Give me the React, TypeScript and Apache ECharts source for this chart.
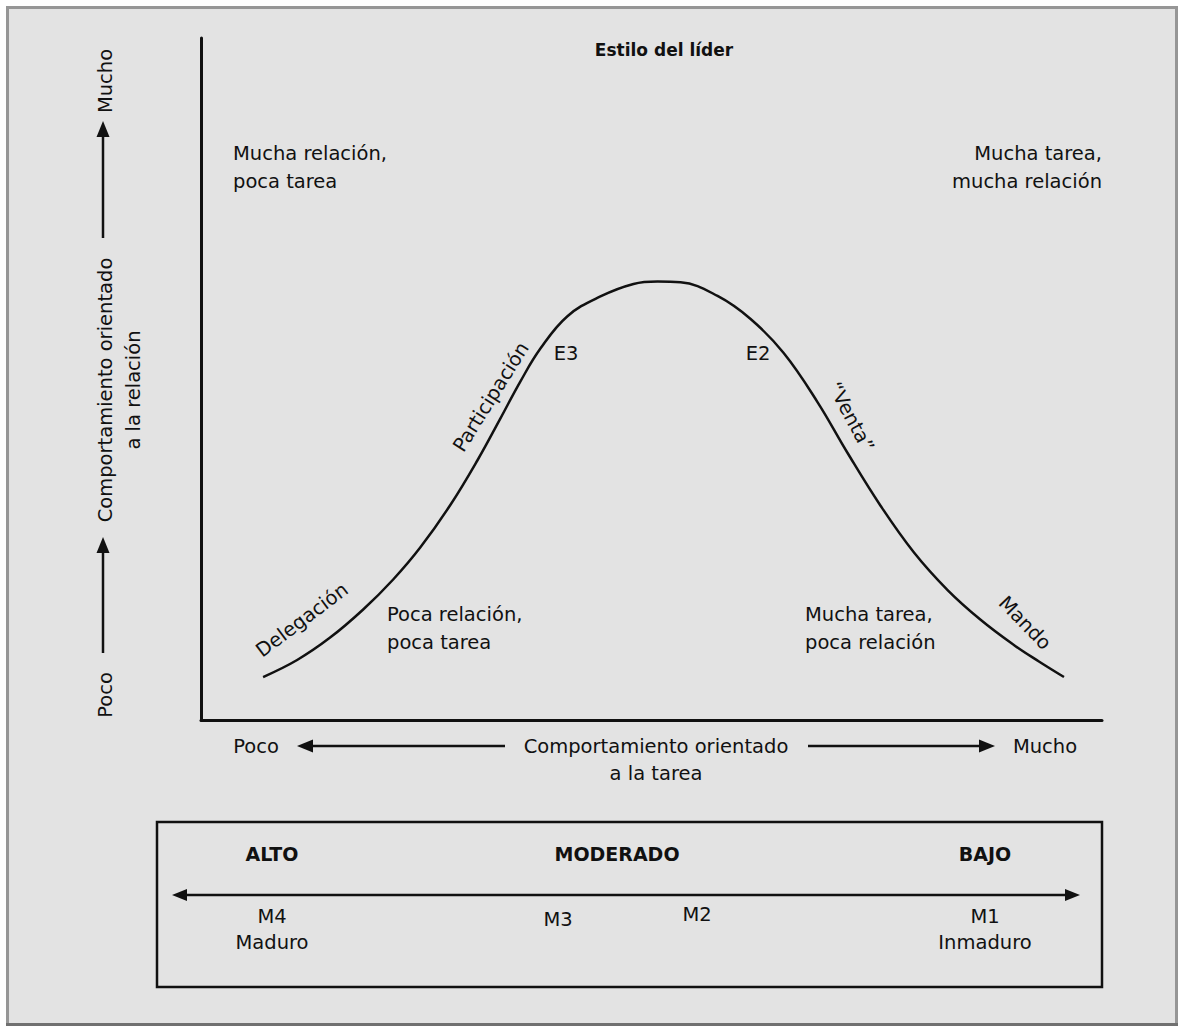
import React, { useEffect, useRef } from "react";
import * as echarts from "echarts";

// Task-oriented behaviour (x, 0-100) and relationship-oriented behaviour (y, 0-100)
const taskLevel = [6.89, 10.67, 14.33, 18.0, 21.33, 24.33, 27.67, 30.67, 33.22, 35.44, 37.67, 40.67, 44.33, 48.0, 50.67, 53.22, 57.33, 61.0, 64.67, 68.44, 71.78, 75.44, 79.11, 82.89, 86.56, 90.22, 93.0, 95.78];
const relationLevel = [6.3, 8.8, 12.08, 16.2, 20.6, 25.28, 31.52, 38.05, 44.19, 49.62, 54.46, 59.21, 62.11, 63.94, 64.3, 64.19, 62.18, 58.8, 53.81, 46.58, 39.11, 31.38, 24.6, 19.02, 14.66, 11.0, 8.58, 6.3];

const titleText = "Estilo del líder";
const quadrantTopLeft = ["Mucha relación,", "poca tarea"];
const quadrantTopRight = ["Mucha tarea,", "mucha relación"];
const quadrantBottomLeft = ["Poca relación,", "poca tarea"];
const quadrantBottomRight = ["Mucha tarea,", "poca relación"];
const styleLabels = ["Delegación", "Participación", "E3", "E2", "“Venta”", "Mando"];
const yAxisTexts = ["Mucho", "Comportamiento orientado", "a la relación", "Poco"];
const xAxisTexts = ["Poco", "Comportamiento orientado", "a la tarea", "Mucho"];
const maturityLevels = ["ALTO", "MODERADO", "BAJO"];
const maturityCodes = ["M4", "M3", "M2", "M1"];
const maturityNames = ["Maduro", "Inmaduro"];

const FONT = "'DejaVu Sans', 'Liberation Sans', sans-serif";
const INK = "#111111";
const deg = (d: number) => (d * Math.PI) / 180;

function txt(text: string, x: number, y: number, opts: any = {}) {
  return {
    type: "text",
    x,
    y,
    rotation: opts.rotation || 0,
    z: 10,
    style: {
      text,
      fill: INK,
      fontFamily: FONT,
      fontSize: opts.fontSize || 19.5,
      fontWeight: opts.bold ? "bold" : "normal",
      align: opts.align || "center",
      verticalAlign: "middle",
    },
  };
}

function hLine(x1: number, x2: number, y: number, w = 2.5, color = INK) {
  return { type: "line", z: 10, shape: { x1, y1: y, x2, y2: y }, style: { stroke: color, lineWidth: w } };
}
function vLine(x: number, y1: number, y2: number, w = 2.5) {
  return { type: "line", z: 10, shape: { x1: x, y1, x2: x, y2 }, style: { stroke: INK, lineWidth: w } };
}
function arrowHead(tx: number, ty: number, dir: "up" | "left" | "right", len = 16, half = 6.5) {
  let pts: number[][] = [];
  if (dir === "up") pts = [[tx, ty], [tx - half, ty + len], [tx + half, ty + len]];
  if (dir === "left") pts = [[tx, ty], [tx + len, ty - half], [tx + len, ty + half]];
  if (dir === "right") pts = [[tx, ty], [tx - len, ty - half], [tx - len, ty + half]];
  return { type: "polygon", z: 10, shape: { points: pts }, style: { fill: INK } };
}

export default function App() {
  const ref = useRef<HTMLDivElement>(null);
  useEffect(() => {
    if (!ref.current) return;
    const chart = echarts.init(ref.current, null, { renderer: "svg" });
    const curve = taskLevel.map((x, i) => [x, relationLevel[i]]);
    const graphic: any[] = [
      {
        type: "rect",
        z: -100,
        shape: { x: 7.5, y: 7.5, width: 1169, height: 1017 },
        style: { fill: "#e3e3e3", stroke: "#969696", lineWidth: 3 },
      },
      { type: "line", z: -99, shape: { x1: 6, y1: 1024.5, x2: 1178, y2: 1024.5 }, style: { stroke: "#707070", lineWidth: 3 } },
      txt(titleText, 664, 50, { bold: true, fontSize: 17 }),
      txt(quadrantTopLeft[0], 233, 153, { align: "left" }),
      txt(quadrantTopLeft[1], 233, 181, { align: "left" }),
      txt(quadrantTopRight[0], 1102, 153, { align: "right" }),
      txt(quadrantTopRight[1], 1102, 181, { align: "right" }),
      txt(quadrantBottomLeft[0], 387, 614, { align: "left" }),
      txt(quadrantBottomLeft[1], 387, 642, { align: "left" }),
      txt(quadrantBottomRight[0], 805, 614, { align: "left" }),
      txt(quadrantBottomRight[1], 805, 642, { align: "left" }),
      txt(styleLabels[0], 302, 620, { rotation: deg(37) }),
      txt(styleLabels[1], 491, 397, { rotation: deg(58) }),
      txt(styleLabels[2], 566, 353),
      txt(styleLabels[3], 758, 353),
      txt(styleLabels[4], 851, 417, { rotation: deg(-62) }),
      txt(styleLabels[5], 1025, 623, { rotation: deg(-46) }),
      // y axis title
      txt(yAxisTexts[0], 105, 81, { rotation: deg(90) }),
      vLine(103, 134, 238),
      arrowHead(103, 121, "up"),
      txt(yAxisTexts[1], 105, 390, { rotation: deg(90) }),
      txt(yAxisTexts[2], 133, 390, { rotation: deg(90) }),
      vLine(103, 550, 653),
      arrowHead(103, 537, "up"),
      txt(yAxisTexts[3], 105, 695, { rotation: deg(90) }),
      // x axis title
      txt(xAxisTexts[0], 256, 746),
      arrowHead(297, 746, "left"),
      hLine(310, 505, 746),
      txt(xAxisTexts[1], 656, 746),
      txt(xAxisTexts[2], 656, 773),
      hLine(808, 982, 746),
      arrowHead(995, 746, "right"),
      txt(xAxisTexts[3], 1045, 746),
      // maturity box
      {
        type: "rect",
        z: 10,
        shape: { x: 157, y: 822, width: 945, height: 165 },
        style: { fill: "none", stroke: INK, lineWidth: 2.5 },
      },
      txt(maturityLevels[0], 272, 854, { bold: true, fontSize: 19 }),
      txt(maturityLevels[1], 617, 854, { bold: true, fontSize: 19 }),
      txt(maturityLevels[2], 985, 854, { bold: true, fontSize: 19 }),
      hLine(184, 1068, 895),
      arrowHead(172, 895, "left", 15, 6),
      arrowHead(1080, 895, "right", 15, 6),
      txt(maturityCodes[0], 272, 916),
      txt(maturityNames[0], 272, 942),
      txt(maturityCodes[1], 558, 919),
      txt(maturityCodes[2], 697, 914),
      txt(maturityCodes[3], 985, 916),
      txt(maturityNames[1], 985, 942),
    ];
    chart.setOption({
      animation: false,
      backgroundColor: "#ffffff",
      grid: { left: 201, top: 38, width: 901, height: 682, containLabel: false },
      xAxis: {
        type: "value",
        min: 0,
        max: 100,
        axisLine: { show: true, lineStyle: { color: INK, width: 3 } },
        axisTick: { show: false },
        axisLabel: { show: false },
        splitLine: { show: false },
      },
      yAxis: {
        type: "value",
        min: 0,
        max: 100,
        axisLine: { show: true, lineStyle: { color: INK, width: 3 } },
        axisTick: { show: false },
        axisLabel: { show: false },
        splitLine: { show: false },
      },
      series: [
        {
          type: "line",
          data: curve,
          smooth: 0.4,
          showSymbol: false,
          symbol: "none",
          lineStyle: { color: INK, width: 2.5 },
          z: 5,
        },
      ],
      graphic,
    });
    return () => chart.dispose();
  }, []);
  return (
    <div
      ref={ref}
      style={{ position: "absolute", left: 0, top: 0, width: 1179, height: 1027 }}
    />
  );
}
